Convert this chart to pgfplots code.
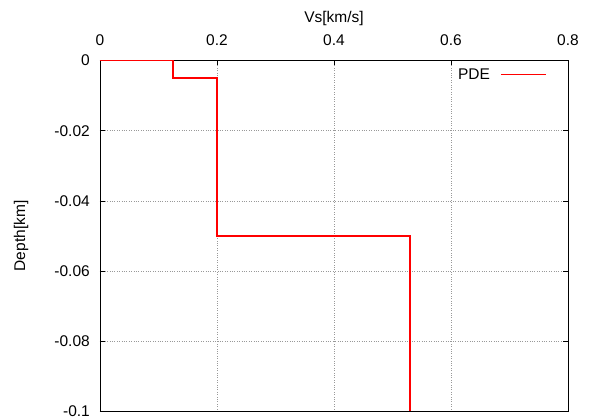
\documentclass[border=0pt]{standalone}
\usepackage{pgfplots}
\pgfplotsset{compat=1.18}
\usepackage{fontspec}
\setmainfont{Liberation Sans}
\begin{document}
\begin{tikzpicture}
\useasboundingbox (-100pt,-8.5pt) rectangle (490pt,411.5pt);
\begin{axis}[
  scale only axis, width=468pt, height=351pt,
  at={(0pt,0pt)}, anchor=south west,
  xmin=0, xmax=0.8, ymin=-0.1, ymax=0,
  xtick pos=upper, xticklabel pos=upper,
  ytick pos=both, yticklabel pos=left,
  xtick={0,0.2,0.4,0.6,0.8},
  xticklabels={0,0.2,0.4,0.6,0.8},
  ytick={-0.1,-0.08,-0.06,-0.04,-0.02,0},
  yticklabels={-0.1,-0.08,-0.06,-0.04,-0.02,0},
  tick align=inside,
  major tick length=5pt,
  tick style={black, line width=0.5pt},
  ticklabel style={font=\fontsize{15.5}{18}\selectfont, inner sep=0pt},
  x tick label style={anchor=center, yshift=20pt},
  y tick label style={anchor=east, xshift=-10pt},
  xlabel={Vs[km/s]}, ylabel={Depth[km]},
  label style={font=\fontsize{15.5}{18}\selectfont, inner sep=0pt},
  xlabel style={at={(axis description cs:0.5,1.1197)}, anchor=center},
  ylabel style={at={(axis description cs:-0.1688,0.5)}, anchor=center},
  grid=major,
  major grid style={dotted, gray!80, line width=0.6pt},
  axis line style={black, line width=0.8pt},
  legend style={draw=none, fill=none, at={(0.955,0.96)}, anchor=east,
    font=\fontsize{15.5}{18}\selectfont, inner sep=0pt,
    /tikz/every even column/.append style={column sep=0pt}},
  legend plot pos=right,
  legend cell align=right,
  legend image code/.code={\draw[red, line width=1.8pt] (0pt,0pt) -- (45pt,0pt);},
]
\addplot[red, line width=1.8pt, const plot mark left] coordinates {
  (0,0) (0.125,-0.005) (0.2,-0.05) (0.53,-0.1)
};
\addlegendentry{PDE\hspace*{8pt}}
\end{axis}
\end{tikzpicture}
\end{document}
